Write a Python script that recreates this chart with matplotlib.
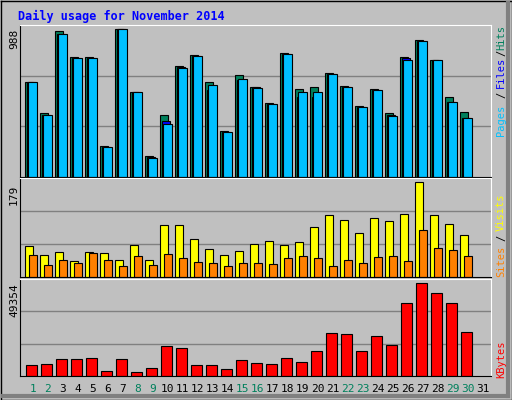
import matplotlib
matplotlib.use("Agg")
import matplotlib.pyplot as plt
import numpy as np

days = list(range(1, 31))
hits = [633,425,975,800,800,210,988,572,143,418,740,814,633,311,680,599,492,827,592,599,693,606,478,586,425,800,914,780,532,438]
files = [633,418,958,793,793,203,988,566,136,376,733,807,584,304,646,599,486,820,537,537,686,599,471,579,418,793,907,780,504,396]
pages = [633,418,956,793,793,203,988,566,130,356,727,807,616,304,659,593,486,820,566,572,686,599,471,579,411,780,907,780,504,396]
visits = [58,41,47,31,47,45,33,60,33,99,99,72,53,41,49,62,68,60,66,95,117,107,84,111,105,119,179,117,101,80]
sites = [41,23,33,27,45,33,21,39,23,43,35,29,27,21,27,27,25,35,39,35,21,33,27,37,39,31,88,54,51,39]
kbytes = [5583,6124,8825,8825,9365,2882,8825,2341,4503,15849,14768,5583,5583,3962,8285,6664,6124,9365,7204,13147,22873,22332,13147,21252,16389,38541,49354,43945,38541,23413]
day_labels = [str(d) for d in range(1, 32)]
weekend = {1,2,8,9,15,16,22,23,29,30}

W, H = 512, 400
fig = plt.figure(figsize=(5.12, 4.0), dpi=100)
fig.patch.set_facecolor('#C0C0C0')
bg = fig.add_axes([0, 0, 1, 1]); bg.set_xlim(0, W); bg.set_ylim(H, 0); bg.axis('off')
bg.plot([0.5, W-0.5, W-0.5, 0.5, 0.5], [0.5, 0.5, H-0.5, H-0.5, 0.5], color='black', lw=1)
bg.plot([W-4, W-4], [3, H-4], color='#808080', lw=3)
bg.plot([3, W-4], [H-4, H-4], color='#808080', lw=3)
bg.text(18, 16, 'Daily usage for November 2014', color='#0000FF', family='DejaVu Sans Mono',
        fontsize=8.5, fontweight='bold', va='center')

def panel(y0, y1):
    ax = fig.add_axes([20/W, 1-y1/H, (491-20)/W, (y1-y0)/H])
    ax.set_facecolor('#C0C0C0')
    ax.set_xlim(0.16, 31.56)
    for s in ['left', 'bottom']:
        ax.spines[s].set_color('black')
    for s in ['top', 'right']:
        ax.spines[s].set_color('white')
    ax.set_xticks([]); ax.set_yticks([])
    return ax

x = np.array(days)
kw = dict(edgecolor='black', linewidth=0.8, align='edge')

ax1 = panel(25, 177)
top1 = 1017
ax1.set_ylim(0, top1)
for g in (top1/3, 2*top1/3):
    ax1.axhline(g, color='#808080', lw=1, zorder=0)
ax1.bar(x-0.51, hits, 0.56, color='#00805C', **kw)
ax1.bar(x-0.40, files, 0.56, color='#0000FF', **kw)
ax1.bar(x-0.29, pages, 0.56, color='#00C0FF', **kw)

ax2 = panel(178, 277)
top2 = 187
ax2.set_ylim(0, top2)
for g in (top2/3, 2*top2/3):
    ax2.axhline(g, color='#808080', lw=1, zorder=0)
ax2.bar(x-0.51, visits, 0.56, color='#FFFF00', **kw)
ax2.bar(x-0.24, sites, 0.51, color='#FF8000', **kw)

ax3 = panel(279, 376)
top3 = 51500
ax3.set_ylim(0, top3)
for g in (top3/3, 2*top3/3):
    ax3.axhline(g, color='#808080', lw=1, zorder=0)
ax3.bar(x-0.44, kbytes, 0.71, color='#FF0000', **kw)

mono = dict(family='DejaVu Sans Mono', fontsize=8)
bg.text(14, 29, str(max(hits)), rotation=90, ha='center', va='top', **mono)
bg.text(14, 185, str(max(visits)), rotation=90, ha='center', va='top', **mono)
bg.text(14, 283, str(max(kbytes)), rotation=90, ha='center', va='top', **mono)

def rtext(y, s, c):
    bg.text(501, y, s, rotation=90, ha='center', va='center', color=c,
            family='DejaVu Sans Mono', fontsize=7.5)
rtext(38, 'Hits', '#00805C'); rtext(53, '/', 'black'); rtext(72, 'Files', '#0000FF')
rtext(95, '/', 'black'); rtext(120, 'Pages', '#00C0FF')
rtext(212, 'Visits', '#FFFF00'); rtext(238, '/', 'black'); rtext(261, 'Sites', '#FF8000')
rtext(359, 'KBytes', '#FF0000')

for i, lab in enumerate(day_labels):
    cx = (98 + 45*i)/3
    bg.text(cx, 389, lab, ha='center', va='center',
            color='#00805C' if (i+1) in weekend else 'black', **mono)

fig.savefig('out.png', dpi=100, facecolor=fig.get_facecolor())
